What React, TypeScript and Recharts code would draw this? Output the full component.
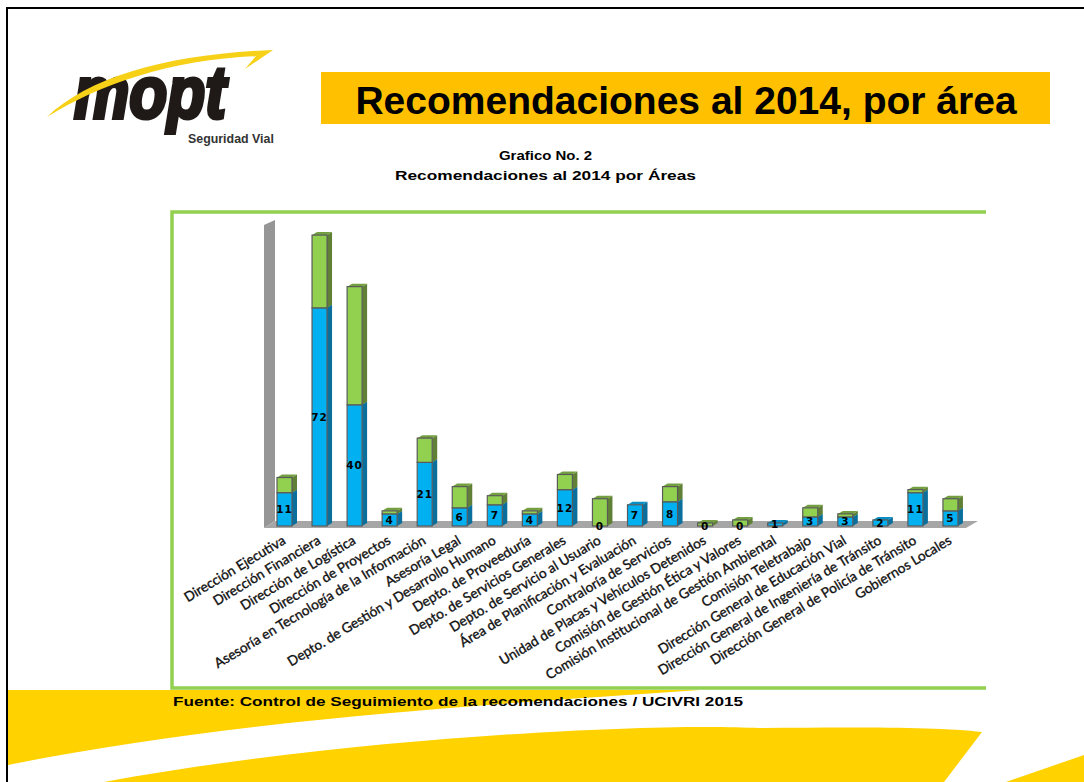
import { BarChart, Bar, XAxis, YAxis, LabelList } from "recharts";

const categories = [
  "Dirección Ejecutiva",
  "Dirección Financiera",
  "Dirección de Logística",
  "Dirección de Proyectos",
  "Asesoría en Tecnología de la Información",
  "Asesoría Legal",
  "Depto. de Gestión y Desarrollo Humano",
  "Depto. de Proveeduría",
  "Depto. de Servicios Generales",
  "Depto. de Servicio al Usuario",
  "Área de Planificación y Evaluación",
  "Contraloría de Servicios",
  "Unidad de Placas y Vehículos Detenidos",
  "Comisión de Gestión Ética y Valores",
  "Comisión Institucional de Gestión Ambiental",
  "Comisión Teletrabajo",
  "Dirección General de Educación Vial",
  "Dirección General de Ingeniería de Tránsito",
  "Dirección General de Policía de Tránsito",
  "Gobiernos Locales",
];

// lower (blue, labelled) and upper (green, unlabelled) part of each bar
const blueValues = [11, 72, 40, 4, 21, 6, 7, 4, 12, 0, 7, 8, 0, 0, 1, 3, 3, 2, 11, 5];
const greenValues = [5, 24, 39, 1, 8, 7, 3, 1, 5, 9, 0, 5, 1, 2, 0, 3, 1, 0, 1, 4];

const data = categories.map((name, i) => ({
  name,
  blue: blueValues[i],
  green: greenValues[i],
}));

const BLUE = "#00B0F0";
const GREEN = "#92D050";
const SIDE: Record<string, string> = { [BLUE]: "#0A6F9C", [GREEN]: "#5F8035" };
const TOP: Record<string, string> = { [BLUE]: "#0A8FC4", [GREEN]: "#739F40" };
const DX = 5;
const DY = 3;

const Bar3D = ({ x, y, width, height, fill }: any) => {
  if (!height || height <= 0) return null;
  const r = x + width;
  const b = y + height;
  return (
    <g>
      <polygon
        points={`${r},${b} ${r + DX},${b - DY} ${r + DX},${y - DY} ${r},${y}`}
        fill={SIDE[fill]}
      />
      <polygon
        points={`${x},${y} ${x + DX},${y - DY} ${r + DX},${y - DY} ${r},${y}`}
        fill={TOP[fill]}
      />
      <rect x={x} y={y} width={width} height={height} fill={fill} stroke="#5A5A5A" strokeWidth={1.2} />
    </g>
  );
};

const AreaTick = ({ x, y, payload }: any) => (
  <text
    transform={`translate(${x + 2},${y + 9}) rotate(-31)`}
    textAnchor="end"
    fontFamily="Lato"
    fontSize={13.7}
    fill="#111"
    stroke="#111"
    strokeWidth={0.35}
  >
    {payload.value}
  </text>
);

// slide artwork behind the chart
const Backdrop = () => (
  <svg width={1084} height={782} style={{ position: "absolute", left: 0, top: 0 }}>
    <rect width={1084} height={782} fill="#fff" />
    <path d="M7 782V8H1084" fill="none" stroke="#000" strokeWidth={2} />

    <path d="M8 690H700C480 705 230 720 8 765Z" fill="#FFD200" />
    <path d="M104 782C330 740 640 722 760 728C860 727 940 727 982 732L944 782Z" fill="#FFD200" />
    <path d="M1006 782L1084 755V782Z" fill="#FFD200" />

    <text x={150} y={118} textAnchor="middle" fontFamily="Liberation Sans" fontWeight={700} fontStyle="italic" fontSize={74} textLength={152} lengthAdjust="spacingAndGlyphs" fill="#1F1A17" stroke="#1F1A17" strokeWidth={4}>
      mopt
    </text>
    <path d="M47 117C90 76 170 54 273 50L245 69L256 56C170 60 100 84 47 117Z" fill="#F7D117" />
    <text x={188} y={143} fontFamily="Liberation Sans" fontWeight={700} fontSize={12.4} fill="#333">
      Seguridad Vial
    </text>

    <rect x={321} y={72} width={729} height={52} fill="#FFC000" />
    <text x={686} y={114} textAnchor="middle" fontFamily="Liberation Sans" fontWeight={700} fontSize={39} fill="#000">
      Recomendaciones al 2014, por área
    </text>
    <text x={499} y={160} fontFamily="Liberation Sans" fontWeight={700} fontSize={12.5} textLength={93} lengthAdjust="spacingAndGlyphs" fill="#000">
      Grafico No. 2
    </text>
    <text x={395} y={180} fontFamily="Liberation Sans" fontWeight={700} fontSize={12.5} textLength={301} lengthAdjust="spacingAndGlyphs" fill="#000">
      Recomendaciones al 2014 por Áreas
    </text>

    <path d="M986 212H172V688H986" fill="none" stroke={GREEN} strokeWidth={3.5} />
    <text x={173} y={706} fontFamily="Liberation Sans" fontWeight={700} fontSize={13} textLength={570} lengthAdjust="spacingAndGlyphs" fill="#000">
      Fuente: Control de Seguimiento de la recomendaciones / UCIVRI 2015
    </text>

    <polygon points="264,225 275,220 275,521 264,528" fill="#969696" />
    <polygon points="264,528 275,521 978,521 966,528" fill="#A6A6A6" />
  </svg>
);

export default function App() {
  return (
    <div style={{ position: "absolute", left: 0, top: 0, width: 1084, height: 782, overflow: "hidden" }}>
      <Backdrop />
      <div style={{ position: "absolute", left: 0, top: 0 }}>
        <BarChart
          width={1084}
          height={782}
          data={data}
          margin={{ top: 223, right: 116, bottom: 16, left: 267 }}
        >
          <XAxis dataKey="name" interval={0} height={240} axisLine={false} tickLine={false} tick={<AreaTick />} />
          <YAxis hide domain={[0, 100]} />
          <Bar dataKey="blue" stackId="a" fill={BLUE} barSize={15} shape={<Bar3D />} isAnimationActive={false}>
            <LabelList
              dataKey="blue"
              position="center"
              fontFamily="DejaVu Sans"
              fontWeight={700}
              fontSize={10.5}
              letterSpacing={1}
              fill="#000"
            />
          </Bar>
          <Bar dataKey="green" stackId="a" fill={GREEN} barSize={15} shape={<Bar3D />} isAnimationActive={false} />
        </BarChart>
      </div>
    </div>
  );
}
